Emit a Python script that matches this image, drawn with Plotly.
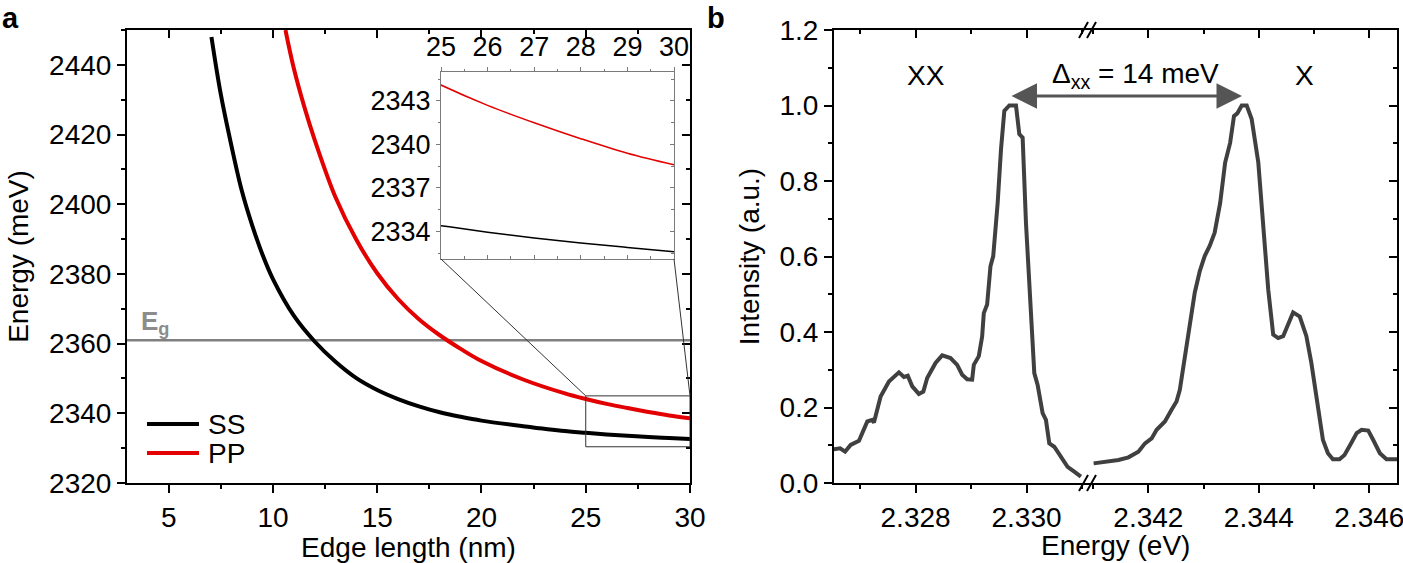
import plotly.graph_objects as go

W, H = 1403, 563
FONT = "Arial, 'Liberation Sans', sans-serif"
RED = "#e30000"
GREY = "#404040"

# ---------------- data: panel a (edge length nm, energy meV) ----------------
edge_ss = [7.05, 7.5, 8, 8.5, 9, 9.5, 10, 11, 12, 13, 14, 15, 16, 17, 18, 19, 20,
           22, 24, 25, 26, 27, 28, 29, 30]
energy_ss = [2448.0, 2431.5, 2417.0, 2404.0, 2394.0, 2385.5, 2378.5, 2368.0, 2360.6,
             2354.8, 2350.1, 2346.7, 2344.1, 2342.0, 2340.3, 2339.0, 2337.9, 2336.3,
             2334.9, 2334.4, 2333.95, 2333.55, 2333.2, 2332.9, 2332.6]
edge_pp = [10.6, 11, 11.5, 12, 13, 14, 15, 16, 17, 18, 19, 20, 22, 24, 25, 26, 27,
           28, 29, 30]
energy_pp = [2450.0, 2439.0, 2428.0, 2418.5, 2402.0, 2389.8, 2380.2, 2372.8, 2367.0,
             2362.4, 2358.5, 2355.0, 2349.7, 2345.7, 2344.1, 2342.7, 2341.5, 2340.4,
             2339.4, 2338.6]
EG = 2361
ZOOM_BOX = [25, 30, 2330.4, 2345]

# ---------------- data: panel b (energy eV, intensity a.u.) ----------------
e_left = [2.32652, 2.32664, 2.32673, 2.32683, 2.32698, 2.32713, 2.32722, 2.32725,
          2.32737, 2.32752, 2.32770, 2.32779, 2.32786, 2.32794, 2.32806, 2.32814,
          2.32821, 2.32836, 2.32848, 2.32863, 2.32875, 2.32884, 2.32893, 2.32902,
          2.32905, 2.32914, 2.32920, 2.32923, 2.32929, 2.32935, 2.32940, 2.32948,
          2.32954, 2.32960, 2.32969, 2.32981, 2.32987, 2.32993, 2.32999, 2.33005,
          2.33014, 2.33020, 2.33029, 2.33035, 2.33041, 2.33050, 2.33062, 2.33074,
          2.33086, 2.33098]
i_left = [0.089, 0.092, 0.083, 0.101, 0.112, 0.163, 0.167, 0.160, 0.229, 0.269, 0.293,
          0.281, 0.284, 0.256, 0.236, 0.242, 0.278, 0.318, 0.338, 0.331, 0.313, 0.287,
          0.275, 0.274, 0.313, 0.336, 0.388, 0.450, 0.473, 0.574, 0.601, 0.742, 0.884,
          0.986, 1.0, 1.0, 0.924, 0.915, 0.689, 0.512, 0.291, 0.26, 0.185, 0.167,
          0.105, 0.096, 0.070, 0.043, 0.030, 0.017]
e_right = [2.34101, 2.34122, 2.34146, 2.34164, 2.34182, 2.34194, 2.34206, 2.34215,
           2.34230, 2.34242, 2.34251, 2.34257, 2.34266, 2.34275, 2.34284, 2.34293,
           2.34302, 2.34311, 2.34320, 2.34330, 2.34339, 2.34348, 2.34355, 2.34361,
           2.34369, 2.34378, 2.34387, 2.34399, 2.34408, 2.34417, 2.34426, 2.34435,
           2.34444, 2.34453, 2.34462, 2.34474, 2.34486, 2.34495, 2.34507, 2.34516,
           2.34525, 2.34534, 2.34546, 2.34555, 2.34567, 2.34577, 2.34586, 2.34598,
           2.34607, 2.34619, 2.34631, 2.34652]
i_right = [0.052, 0.057, 0.061, 0.068, 0.083, 0.105, 0.118, 0.141, 0.163, 0.194, 0.216,
           0.247, 0.335, 0.424, 0.504, 0.561, 0.601, 0.628, 0.663, 0.742, 0.849, 0.901,
           0.972, 0.979, 1.0, 1.0, 0.964, 0.849, 0.689, 0.512, 0.393, 0.384, 0.389,
           0.424, 0.452, 0.441, 0.389, 0.318, 0.203, 0.114, 0.079, 0.063, 0.063, 0.074,
           0.105, 0.132, 0.141, 0.139, 0.114, 0.079, 0.063, 0.063]


def px(v):
    return v / W


def py(v):
    return 1 - v / H


# layout geometry (pixels)
A_X = [px(127), px(690)]
PLOT_Y = [py(483), py(30)]
B_X1 = [px(834), px(1087)]
B_X2 = [px(1087), px(1397)]
IN_X = [px(441), px(674)]
IN_Y = [py(259), py(72)]

A_XR = [3, 30]
A_YR = [2320, 2450]
IN_XR = [25, 30]
IN_YR = [2332.1, 2345]
B_XR1 = [2.32653, 2.33109]
B_XR2 = [2.34089, 2.3465]
B_YR = [0, 1.2]

fig = go.Figure()

# panel a main curves
fig.add_trace(go.Scatter(x=edge_ss, y=energy_ss, mode="lines", name="SS",
                         showlegend=False,
                         line=dict(color="black", width=4, shape="spline"),
                         xaxis="x", yaxis="y"))
fig.add_trace(go.Scatter(x=edge_pp, y=energy_pp, mode="lines", name="PP",
                         showlegend=False,
                         line=dict(color=RED, width=4, shape="spline"),
                         xaxis="x", yaxis="y"))
# inset curves
fig.add_trace(go.Scatter(x=edge_pp, y=energy_pp, mode="lines", showlegend=False,
                         line=dict(color=RED, width=1.5, shape="spline"),
                         xaxis="x5", yaxis="y5"))
fig.add_trace(go.Scatter(x=edge_ss, y=energy_ss, mode="lines", showlegend=False,
                         line=dict(color="black", width=1.5, shape="spline"),
                         xaxis="x5", yaxis="y5"))
# panel b spectrum
fig.add_trace(go.Scatter(x=e_left, y=i_left, mode="lines", showlegend=False,
                         line=dict(color=GREY, width=4), xaxis="x2", yaxis="y2"))
fig.add_trace(go.Scatter(x=e_right, y=i_right, mode="lines", showlegend=False,
                         line=dict(color=GREY, width=4), xaxis="x3", yaxis="y2"))

# empty helper traces so that the mirrored (top/right) axes get drawn
for xa, ya in [("x4", "y"), ("x", "y4"), ("x6", "y5"), ("x5", "y6"),
               ("x7", "y2"), ("x8", "y2"), ("x3", "y3")]:
    fig.add_trace(go.Scatter(x=[None], y=[None], mode="lines", showlegend=False,
                             hoverinfo="skip", xaxis=xa, yaxis=ya))

tickfont = dict(size=28, color="black", family=FONT)
titlefont = dict(size=28, color="black", family=FONT)


def ax(**kw):
    d = dict(showgrid=False, zeroline=False, showline=True, linecolor="black",
             linewidth=2, tickcolor="black", tickwidth=2, ticklen=8,
             tickfont=tickfont, automargin=False, ticklabeloverflow="allow")
    d.update(kw)
    return d


def minor(dtick, ticks, length=4, color="black", width=2):
    return dict(dtick=dtick, ticks=ticks, ticklen=length, tickcolor=color,
                tickwidth=width, showgrid=False)


INSET_C = "#7a7a7a"


def inax(**kw):
    d = dict(showgrid=False, zeroline=False, showline=True, linecolor=INSET_C,
             linewidth=1, tickcolor=INSET_C, tickwidth=1, ticklen=4,
             tickfont=dict(size=27, color="black", family=FONT), automargin=False,
             ticklabeloverflow="allow")
    d.update(kw)
    return d


fig.update_layout(
    width=W, height=H, margin=dict(l=0, r=0, t=0, b=0),
    paper_bgcolor="white", plot_bgcolor="white",
    font=dict(family=FONT, color="black"),
    showlegend=False,
    # panel a
    xaxis=ax(domain=A_X, anchor="y", range=A_XR, tick0=0, dtick=5, ticks="outside",
             minor=minor(2.5, "outside"),
             title=dict(text="Edge length (nm)", font=titlefont, standoff=8)),
    yaxis=ax(domain=PLOT_Y, anchor="x", range=A_YR, tick0=0, dtick=20, ticks="outside",
             minor=minor(10, "outside"),
             title=dict(text="Energy (meV)", font=titlefont, standoff=12)),
    xaxis4=ax(overlaying="x", side="top", anchor="y", range=A_XR, tick0=0, dtick=5,
              ticks="inside", showticklabels=False, minor=minor(2.5, "inside")),
    yaxis4=ax(overlaying="y", side="right", anchor="x", range=A_YR, tick0=0, dtick=20,
              ticks="inside", showticklabels=False, minor=minor(10, "inside")),
    # inset
    xaxis5=inax(domain=IN_X, anchor="y5", side="top", range=IN_XR, tick0=0, dtick=1,
                ticks="outside", minor=minor(0.5, "outside", 2, INSET_C, 1)),
    yaxis5=inax(domain=IN_Y, anchor="x5", range=IN_YR, tick0=2334, dtick=3,
                ticks="outside", minor=minor(1.5, "outside", 2, INSET_C, 1)),
    xaxis6=inax(overlaying="x5", side="bottom", anchor="y5", range=IN_XR, tick0=0,
                dtick=1, ticks="inside", showticklabels=False,
                minor=minor(0.5, "inside", 3, INSET_C, 1)),
    yaxis6=inax(overlaying="y5", side="right", anchor="x5", range=IN_YR, tick0=2334,
                dtick=3, ticks="inside", showticklabels=False,
                minor=minor(1.5, "inside", 3, INSET_C, 1)),
    # panel b
    xaxis2=ax(domain=B_X1, anchor="y2", range=B_XR1, tick0=2.328, dtick=0.002,
              tickformat=".3f", ticks="outside", minor=minor(0.001, "outside")),
    xaxis3=ax(domain=B_X2, anchor="y2", range=B_XR2, tick0=2.342, dtick=0.002,
              tickformat=".3f", ticks="outside", minor=minor(0.001, "outside")),
    yaxis2=ax(domain=PLOT_Y, anchor="x2", range=B_YR, tick0=0, dtick=0.2,
              tickformat=".1f", ticks="outside", minor=minor(0.1, "outside"),
              title=dict(text="Intensity (a.u.)", font=titlefont, standoff=12)),
    xaxis7=ax(overlaying="x2", side="top", anchor="y2", range=B_XR1, tick0=2.328,
              dtick=0.002, ticks="inside", showticklabels=False,
              minor=minor(0.001, "inside")),
    xaxis8=ax(overlaying="x3", side="top", anchor="y2", range=B_XR2, tick0=2.342,
              dtick=0.002, ticks="inside", showticklabels=False,
              minor=minor(0.001, "inside")),
    yaxis3=ax(overlaying="y2", side="right", anchor="x3", range=B_YR, tick0=0,
              dtick=0.2, ticks="inside", showticklabels=False,
              minor=minor(0.1, "inside")),
)


# helper: map panel-a data to paper
def a_paper(xv, yv):
    fx = A_X[0] + (xv - A_XR[0]) / (A_XR[1] - A_XR[0]) * (A_X[1] - A_X[0])
    fy = PLOT_Y[0] + (yv - A_YR[0]) / (A_YR[1] - A_YR[0]) * (PLOT_Y[1] - PLOT_Y[0])
    return fx, fy


shapes = []
# Eg line
shapes.append(dict(type="line", xref="x domain", yref="y", x0=0, x1=1, y0=EG, y1=EG,
                   line=dict(color="#808080", width=2.5), layer="below"))
# zoom rectangle
shapes.append(dict(type="rect", xref="x", yref="y", x0=ZOOM_BOX[0], x1=ZOOM_BOX[1],
                   y0=ZOOM_BOX[2], y1=ZOOM_BOX[3], line=dict(color="#333333", width=1)))
# connector lines
tl = a_paper(ZOOM_BOX[0], ZOOM_BOX[3])
tr = a_paper(ZOOM_BOX[1], ZOOM_BOX[3])
shapes.append(dict(type="line", xref="paper", yref="paper", x0=tl[0], y0=tl[1],
                   x1=IN_X[0], y1=IN_Y[0], line=dict(color="#333333", width=1)))
shapes.append(dict(type="line", xref="paper", yref="paper", x0=tr[0], y0=tr[1],
                   x1=IN_X[1], y1=IN_Y[0], line=dict(color="#333333", width=1)))
# axis break marks
for yc in (30, 483):
    for x0 in (1079, 1087):
        shapes.append(dict(type="line", xref="paper", yref="paper",
                           x0=px(x0), y0=py(yc + 8), x1=px(x0 + 9), y1=py(yc - 8),
                           line=dict(color="black", width=2)))
# legend samples (panel a)
legend_items = [("SS", "black", 424), ("PP", RED, 453)]
for name, col, yy in legend_items:
    shapes.append(dict(type="line", xref="paper", yref="paper", x0=px(147), x1=px(199),
                       y0=py(yy), y1=py(yy), line=dict(color=col, width=4)))
fig.update_layout(shapes=shapes)

ann = []
for name, col, yy in legend_items:
    ann.append(dict(text=name, x=px(206), y=py(yy), xref="paper", yref="paper",
                    xanchor="left", yanchor="middle", showarrow=False,
                    font=dict(size=28, family=FONT, color="black")))
ann.append(dict(text="<b>a</b>", x=px(0), y=py(0), xref="paper", yref="paper",
                xanchor="left", yanchor="top", showarrow=False,
                font=dict(size=29, family=FONT, color="black")))
ann.append(dict(text="<b>b</b>", x=px(705), y=py(0), xref="paper", yref="paper",
                xanchor="left", yanchor="top", showarrow=False,
                font=dict(size=29, family=FONT, color="black")))
ann.append(dict(text="<b>E<sub>g</sub></b>", x=px(139), y=py(322), xref="paper",
                yref="paper", xanchor="left", yanchor="middle", showarrow=False,
                font=dict(size=26, family=FONT, color="#8c8c8c")))
ann.append(dict(text="XX", x=px(926), y=py(75), xref="paper", yref="paper",
                xanchor="center", yanchor="middle", showarrow=False,
                font=dict(size=28, family=FONT, color="black")))
ann.append(dict(text="X", x=px(1304), y=py(75), xref="paper", yref="paper",
                xanchor="center", yanchor="middle", showarrow=False,
                font=dict(size=28, family=FONT, color="black")))
ann.append(dict(text="Δ<sub>xx</sub> = 14 meV", x=px(1135), y=py(75), xref="paper",
                yref="paper", xanchor="center", yanchor="middle", showarrow=False,
                font=dict(size=28, family=FONT, color="black")))
ann.append(dict(text="", x=px(1242), y=py(96), ax=-232, ay=0, xref="paper",
                yref="paper", axref="pixel", ayref="pixel", showarrow=True,
                arrowhead=2, startarrowhead=2, arrowside="end+start", arrowwidth=3,
                arrowsize=1.7, startarrowsize=1.7, arrowcolor="#555555"))
ann.append(dict(text="Energy (eV)", x=px(1115), y=py(545), xref="paper", yref="paper",
                xanchor="center", yanchor="middle", showarrow=False, font=titlefont))
fig.update_layout(annotations=ann)

fig.write_html("out.html")
